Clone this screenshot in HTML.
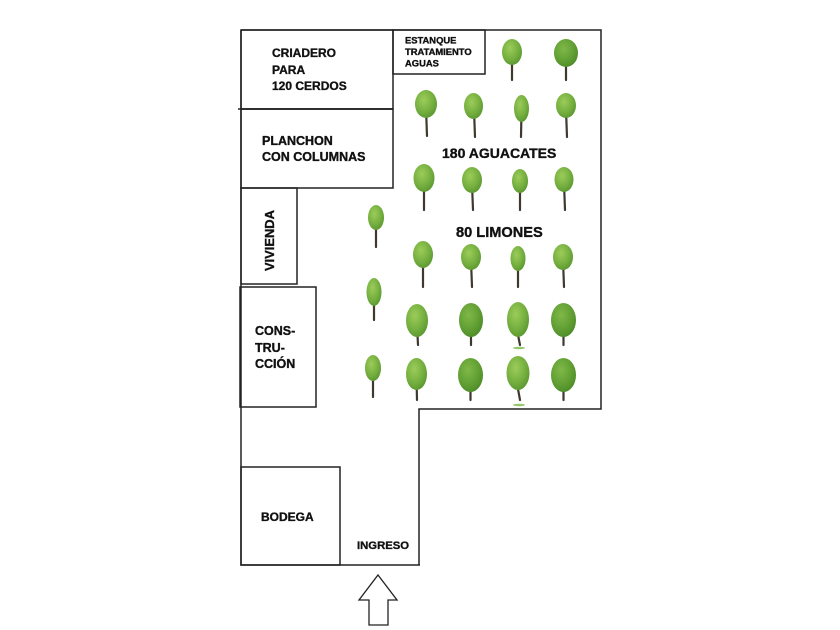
<!DOCTYPE html>
<html>
<head>
<meta charset="utf-8">
<style>
  html,body{margin:0;padding:0;background:#fff;}
  svg{display:block;}
  text{font-family:"Liberation Sans",Arial,sans-serif;font-weight:bold;fill:#111;stroke:#111;stroke-width:0.35;}
</style>
</head>
<body>
<svg width="840" height="630" viewBox="0 0 840 630" xmlns="http://www.w3.org/2000/svg">
  <defs>
    <radialGradient id="gl" cx="40%" cy="35%" r="70%">
      <stop offset="0" stop-color="#9ccc5a"/>
      <stop offset="0.6" stop-color="#76b040"/>
      <stop offset="1" stop-color="#5a9630"/>
    </radialGradient>
    <radialGradient id="gd" cx="40%" cy="35%" r="70%">
      <stop offset="0" stop-color="#80b848"/>
      <stop offset="0.6" stop-color="#62a034"/>
      <stop offset="1" stop-color="#4c8a28"/>
    </radialGradient>
  </defs>

  <!-- outer boundary -->
  <g fill="none" stroke="#222" stroke-width="1.5">
    <path d="M241,30 H601 V409 H419 V565"/>
    <path d="M241,30 V565 H420"/>
    <!-- boxes -->
    <rect x="241" y="30" width="152" height="79"/>
    <line x1="238" y1="109" x2="393" y2="109"/>
    <rect x="393" y="30" width="92" height="44"/>
    <rect x="241" y="109" width="152" height="79"/>
    <rect x="241" y="188" width="56" height="96"/>
    <rect x="240" y="287" width="76" height="120"/>
    <rect x="241" y="467" width="99" height="98"/>
    <!-- arrow -->
    <polygon points="378,575 397,600 388,600 388,625 369,625 369,600 359,600" stroke-width="1.3"/>
  </g>

  <!-- trees -->
  <g id="trees">
    <!-- trunks -->
    <g stroke="#3e3a30" stroke-width="2.2" stroke-linecap="round">
      <line x1="512" y1="55" x2="512" y2="80"/>
      <line x1="566" y1="55" x2="566" y2="80"/>
      <line x1="426" y1="108" x2="427" y2="136"/>
      <line x1="474" y1="110" x2="475" y2="137"/>
      <line x1="521.5" y1="112" x2="521" y2="137"/>
      <line x1="566" y1="110" x2="567" y2="137"/>
      <line x1="424" y1="182" x2="424" y2="210"/>
      <line x1="472" y1="184" x2="473" y2="210"/>
      <line x1="520" y1="184" x2="520" y2="210"/>
      <line x1="564" y1="183" x2="565" y2="210"/>
      <line x1="423" y1="258" x2="423" y2="287"/>
      <line x1="471" y1="260" x2="472" y2="287"/>
      <line x1="518" y1="262" x2="518" y2="287"/>
      <line x1="563" y1="260" x2="564" y2="287"/>
      <line x1="417" y1="325" x2="418" y2="345"/>
      <line x1="471" y1="325" x2="471" y2="345"/>
      <line x1="516" y1="325" x2="520" y2="345"/>
      <line x1="563.5" y1="325" x2="563.5" y2="345"/>
      <line x1="416.5" y1="378" x2="417" y2="400"/>
      <line x1="470.5" y1="380" x2="470.5" y2="400"/>
      <line x1="516" y1="378" x2="520" y2="400"/>
      <line x1="563.5" y1="380" x2="563.5" y2="400"/>
      <line x1="376" y1="222" x2="376" y2="247"/>
      <line x1="374" y1="296" x2="374" y2="320"/>
      <line x1="373" y1="372" x2="373" y2="397"/>
    </g>
    <!-- grass shadows -->
    <g fill="#7cb848" opacity="0.8">
      <ellipse cx="519" cy="348" rx="6" ry="1.2"/>
      <ellipse cx="519" cy="405" rx="6" ry="1.2"/>
    </g>
    <!-- canopies light -->
    <g fill="url(#gl)">
      <ellipse cx="512" cy="52" rx="10" ry="13"/>
      <ellipse cx="426" cy="104" rx="11" ry="14"/>
      <ellipse cx="473.5" cy="106" rx="9.5" ry="13"/>
      <ellipse cx="521.5" cy="108.5" rx="7.5" ry="13.5"/>
      <ellipse cx="566" cy="105.5" rx="10" ry="12.5"/>
      <ellipse cx="424" cy="178" rx="10.5" ry="14"/>
      <ellipse cx="472" cy="180" rx="10" ry="13"/>
      <ellipse cx="520" cy="181" rx="8" ry="12"/>
      <ellipse cx="564" cy="179.5" rx="9.5" ry="12.5"/>
      <ellipse cx="423" cy="254.5" rx="10" ry="13.5"/>
      <ellipse cx="471" cy="257" rx="10" ry="13"/>
      <ellipse cx="518" cy="258.5" rx="7.5" ry="12.5"/>
      <ellipse cx="563" cy="257" rx="10" ry="13"/>
      <ellipse cx="417" cy="320.5" rx="11" ry="16.5"/>
      <ellipse cx="518" cy="319.5" rx="11" ry="17.5"/>
      <ellipse cx="416.5" cy="374" rx="10.5" ry="16"/>
      <ellipse cx="518" cy="373" rx="11.5" ry="17"/>
      <ellipse cx="376" cy="217.5" rx="8" ry="12.5"/>
      <ellipse cx="374" cy="292" rx="7.5" ry="14"/>
      <ellipse cx="373" cy="368" rx="8" ry="13"/>
    </g>
    <!-- canopies dark round -->
    <g fill="url(#gd)">
      <ellipse cx="566" cy="53" rx="12" ry="14"/>
      <ellipse cx="471" cy="320" rx="12" ry="17"/>
      <ellipse cx="563.5" cy="320" rx="12.5" ry="17"/>
      <ellipse cx="470.5" cy="375" rx="12.5" ry="17"/>
      <ellipse cx="563.5" cy="375" rx="12.5" ry="17"/>
    </g>
  </g>

  <!-- labels -->
  <text x="272" y="57" font-size="12">CRIADERO</text>
  <text x="272" y="74" font-size="12">PARA</text>
  <text x="272" y="90" font-size="12">120 CERDOS</text>

  <text x="405" y="43.5" font-size="9.4">ESTANQUE</text>
  <text x="405" y="55" font-size="9.4">TRATAMIENTO</text>
  <text x="405" y="66.7" font-size="9.4">AGUAS</text>

  <text x="262" y="145" font-size="12.5">PLANCHON</text>
  <text x="262" y="161" font-size="12.5">CON COLUMNAS</text>

  <text x="442" y="158" font-size="14">180 AGUACATES</text>
  <text x="456" y="237" font-size="14.6">80 LIMONES</text>

  <text transform="translate(274,271) rotate(-90)" font-size="12.9">VIVIENDA</text>

  <text x="255" y="335" font-size="12.5">CONS-</text>
  <text x="255" y="352" font-size="12.5">TRU-</text>
  <text x="255" y="368" font-size="12.5">CCIÓN</text>

  <text x="261" y="521" font-size="12">BODEGA</text>
  <text x="357" y="549" font-size="11.3">INGRESO</text>
</svg>
</body>
</html>
